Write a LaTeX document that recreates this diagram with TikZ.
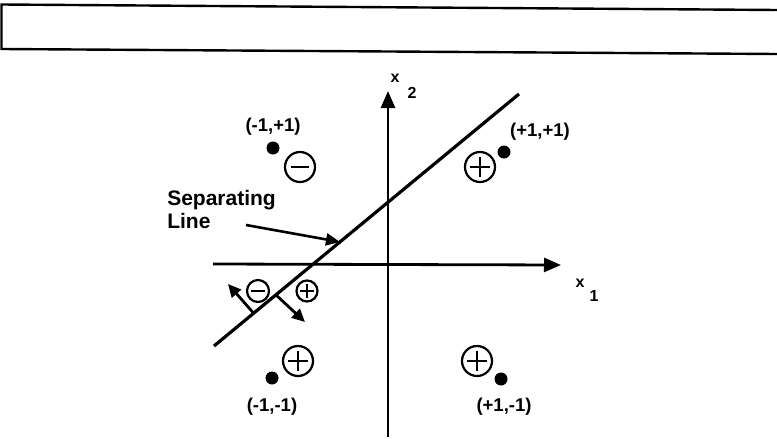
\documentclass[tikz,border=0pt]{standalone}
\usepackage{fontspec}
\setmainfont{Liberation Sans}
\usetikzlibrary{arrows.meta,calc}
\tikzset{
  lbl/.style={font=\bfseries\fontsize{18.5}{22}\selectfont, inner sep=0pt},
  seplbl/.style={font=\bfseries\fontsize{21}{24}\selectfont, inner sep=0pt},
  axlbl/.style={font=\bfseries\fontsize{16}{18}\selectfont, inner sep=0pt},
  dotpt/.style={circle, fill=black, minimum size=13pt, inner sep=0pt},
  cplus/.style={circle, draw, line width=2.2pt, minimum size=2*#1, inner sep=0pt,
    path picture={\draw[line width=2.2pt]
      (path picture bounding box.center) ++(-0.66*#1,0) -- ++(1.32*#1,0)
      (path picture bounding box.center) ++(0,-0.66*#1) -- ++(0,1.32*#1);}},
  cminus/.style={circle, draw, line width=2.2pt, minimum size=2*#1, inner sep=0pt,
    path picture={\draw[line width=2.2pt]
      (path picture bounding box.center) ++(-0.62*#1,0) -- ++(1.24*#1,0);}},
  axis/.style={line width=2.8pt, -{Triangle[length=17pt,width=14pt]}},
  sepline/.style={line width=3.2pt},
  pointer/.style={line width=2.6pt, -{Triangle[length=14pt,width=12pt]}},
  normarrow/.style={line width=2.8pt, -{Triangle[length=13pt,width=12pt]}},
  frame/.style={line width=2.4pt}
}
\begin{document}
\begin{tikzpicture}[x=1pt,y=-1pt]
\useasboundingbox (0,0) rectangle (777,439);
% top frame
\coordinate (ftr) at (777,10);
\coordinate (ftl) at (1.5,4.5);
\coordinate (fbl) at (1.5,49);
\coordinate (fbr) at (777,54);
\draw[frame] (ftr) -- (ftl) -- (fbl) -- (fbr);
% axes
\coordinate (xa1) at (213,264);
\coordinate (xa2) at (561,265);
\coordinate (ya1) at (388,437);
\coordinate (ya2) at (388,91);
\draw[axis] (xa1) -- (xa2);
\draw[axis] (ya1) -- (ya2);
\node[axlbl] (x1a) at (580,283) {x};
\node[axlbl] (x1b) at (594,296) {1};
\node[axlbl] (x2a) at (395,78) {x};
\node[axlbl] (x2b) at (412,93) {2};
% separating line
\coordinate (sl1) at (214,346);
\coordinate (sl2) at (519,94);
\draw[sepline] (sl1) -- (sl2);
\coordinate (slp) at ($(sl1)!0.413!(sl2)$);
\coordinate (ps) at (246,225);
\draw[pointer] (ps) -- (slp);
\node[seplbl, anchor=base east] (sep1) at (276,205) {Separating};
\node[seplbl, anchor=base west] (sep2) at (sep1.west |- 0,228) {Line};
% normal arrows
\coordinate (nf1) at ($(sl1)!0.13!(sl2)$);
\coordinate (nt1) at (228,284);
\coordinate (nf2) at ($(sl1)!0.203!(sl2)$);
\coordinate (nt2) at (305,322);
\draw[normarrow] (nf1) -- (nt1);
\draw[normarrow] (nf2) -- (nt2);
\node[cminus=11pt] (sm) at (258,291) {};
\node[cplus=10.5pt] (sp) at (307,291) {};
% points
\node[dotpt] (d11) at (273,148) {};
\node[lbl] (l11) at (273,127) {(-1,+1)};
\node[cminus=15pt] (c11) at (300,167) {};
\node[dotpt] (d22) at (504,152) {};
\node[lbl] (l22) at (540,132) {(+1,+1)};
\node[cplus=15pt] (c22) at (480,167) {};
\node[dotpt] (d33) at (272,378) {};
\node[lbl] (l33) at (272,407) {(-1,-1)};
\node[cplus=15pt] (c33) at (298,361) {};
\node[dotpt] (d44) at (501,379) {};
\node[lbl] (l44) at (504,407) {(+1,-1)};
\node[cplus=15pt] (c44) at (477,361) {};
\end{tikzpicture}
\end{document}
